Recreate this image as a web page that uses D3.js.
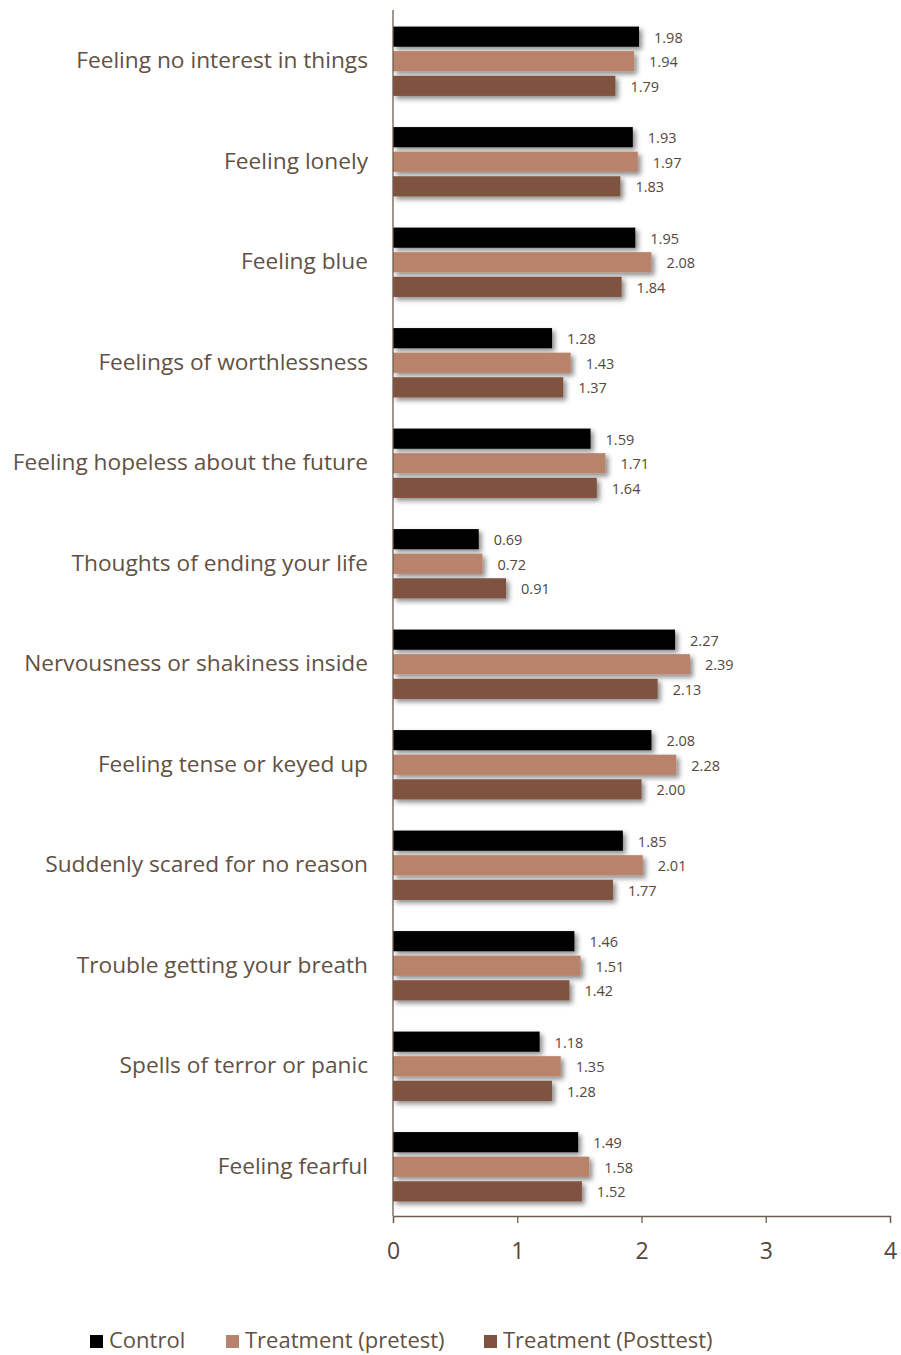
<!DOCTYPE html>
<html>
<head>
<meta charset="utf-8">
<script src="https://cdn.jsdelivr.net/npm/d3@7"></script>
<style>
  html, body { margin: 0; padding: 0; background: #fff; }
  svg { display: block; }
</style>
</head>
<body>
<svg id="chart" width="901" height="1355"></svg>
<script>
// Symptom items, top to bottom
const categories = [
  "Feeling no interest in things",
  "Feeling lonely",
  "Feeling blue",
  "Feelings of worthlessness",
  "Feeling hopeless about the future",
  "Thoughts of ending your life",
  "Nervousness or shakiness inside",
  "Feeling tense or keyed up",
  "Suddenly scared for no reason",
  "Trouble getting your breath",
  "Spells of terror or panic",
  "Feeling fearful"
];

const seriesNames = ["Control", "Treatment (pretest)", "Treatment (Posttest)"];
const seriesColors = ["#000000", "#b9826a", "#7f5240"];

const control  = [1.98, 1.93, 1.95, 1.28, 1.59, 0.69, 2.27, 2.08, 1.85, 1.46, 1.18, 1.49];
const pretest  = [1.94, 1.97, 2.08, 1.43, 1.71, 0.72, 2.39, 2.28, 2.01, 1.51, 1.35, 1.58];
const posttest = [1.79, 1.83, 1.84, 1.37, 1.64, 0.91, 2.13, 2.00, 1.77, 1.42, 1.28, 1.52];

const xTicks = [0, 1, 2, 3, 4];

const seriesValues = [control, pretest, posttest];

const textColor = "#625143";
const fontFamily = "'Open Sans', 'Noto Sans', sans-serif";

const svg = d3.select("#chart");

const x = d3.scaleLinear().domain([0, 4]).range([393, 890]);

const y0 = d3.scaleBand()
  .domain(categories)
  .range([11, 1217])
  .paddingInner(0.31)
  .paddingOuter(0.155);

const y1 = d3.scaleBand()
  .domain(seriesNames)
  .range([0, y0.bandwidth()])
  .paddingInner(0.18)
  .paddingOuter(0);

// Soft drop shadow under each bar
const defs = svg.append("defs");
const shadow = defs.append("filter")
  .attr("id", "barShadow")
  .attr("x", "-10%").attr("y", "-30%")
  .attr("width", "130%").attr("height", "190%");
shadow.append("feDropShadow")
  .attr("dx", 3).attr("dy", 3)
  .attr("stdDeviation", 2.5)
  .attr("flood-color", "#000")
  .attr("flood-opacity", 0.45);

// Bars
const groups = svg.append("g").selectAll("g")
  .data(categories)
  .join("g")
  .attr("transform", d => `translate(0,${y0(d)})`);

groups.each(function(cat, i) {
  const g = d3.select(this);
  seriesNames.forEach((s, j) => {
    const v = seriesValues[j][i];
    g.append("rect")
      .attr("x", x(0))
      .attr("y", y1(s))
      .attr("width", x(v) - x(0))
      .attr("height", y1.bandwidth())
      .attr("fill", seriesColors[j])
      .attr("filter", "url(#barShadow)");
    g.append("text")
      .attr("x", x(v) + 15)
      .attr("y", y1(s) + y1.bandwidth() / 2 + 1)
      .attr("dy", "0.35em")
      .attr("font-family", fontFamily)
      .attr("font-size", 14.5)
      .attr("fill", "#55473d")
      .text(v.toFixed(2));
  });
});

// Category labels
svg.append("g").selectAll("text")
  .data(categories)
  .join("text")
  .attr("x", 368)
  .attr("y", d => y0(d) + y0.bandwidth() / 2 - 1)
  .attr("dy", "0.35em")
  .attr("text-anchor", "end")
  .attr("font-family", fontFamily)
  .attr("font-size", 22.7)
  .attr("fill", textColor)
  .text(d => d);

// Vertical category axis line
svg.append("line")
  .attr("x1", x(0)).attr("x2", x(0))
  .attr("y1", 10).attr("y2", 1216)
  .attr("stroke", "#6e5e52")
  .attr("stroke-width", 1.3);

// Value axis along the bottom
const xAxis = svg.append("g")
  .attr("transform", "translate(0,1216)")
  .call(d3.axisBottom(x).tickValues(xTicks).tickSize(7).tickPadding(20).tickFormat(d3.format("d")));
xAxis.select(".domain").attr("stroke", "#6e5e52").attr("stroke-width", 1.3);
xAxis.selectAll(".tick line").attr("stroke", "#6e5e52").attr("stroke-width", 1.3);
xAxis.selectAll(".tick text")
  .attr("font-family", fontFamily)
  .attr("font-size", 23)
  .attr("fill", "#55473d");

// Legend
const legendX = [90, 226, 484];
const legend = svg.append("g").selectAll("g")
  .data(seriesNames)
  .join("g")
  .attr("transform", (d, i) => `translate(${legendX[i]},1339)`);
legend.append("rect")
  .attr("x", 0).attr("y", -4)
  .attr("width", 13).attr("height", 13)
  .attr("fill", (d, i) => seriesColors[i]);
legend.append("text")
  .attr("x", 19).attr("y", 1)
  .attr("dy", "0.35em")
  .attr("font-family", fontFamily)
  .attr("font-size", 22)
  .attr("fill", textColor)
  .text(d => d);
</script>
</body>
</html>
